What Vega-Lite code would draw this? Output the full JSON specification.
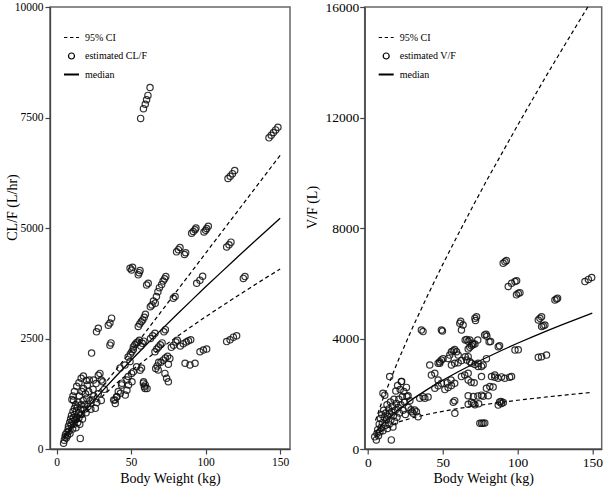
{
  "$schema": "https://vega.github.io/schema/vega-lite/v6.json",
  "background": "white",
  "padding": {"left": 4, "top": -1, "right": 0, "bottom": 0},
  "spacing": 13.7,
  "config": {
    "view": {"stroke": "#666", "strokeWidth": 1.5},
    "style": {
      "guide-label": {"font": "Liberation Serif", "fontSize": 11.5, "fill": "black"},
      "guide-title": {"font": "Liberation Serif", "fontSize": 14, "fontWeight": "normal", "fill": "black"}
    },
    "axis": {
      "domainColor": "#444", "domainWidth": 1.3, "tickColor": "#444", "tickWidth": 1.2, "tickSize": 5,
      "grid": false, "labelPadding": 2, "format": "d"
    }
  },
  "datasets": {
    "cl": [
      {"W":56.4,"v":7480},{"W":58.3,"v":7700},{"W":59.5,"v":7800},{"W":60.4,"v":7900},{"W":61.3,"v":8000},{"W":62.7,"v":8180},
      {"W":142.5,"v":7040},{"W":144,"v":7100},{"W":145.5,"v":7160},{"W":147,"v":7220},{"W":148.5,"v":7280},
      {"W":115,"v":6120},{"W":116.5,"v":6170},{"W":118,"v":6230},{"W":119.5,"v":6300},
      {"W":90.6,"v":4880},{"W":91.7,"v":4920},{"W":92.9,"v":4960},{"W":93.5,"v":5000},
      {"W":98.9,"v":4910},{"W":100,"v":4950},{"W":100.7,"v":4990},{"W":101.8,"v":5040},
      {"W":80.5,"v":4460},{"W":81.7,"v":4510},{"W":82.8,"v":4560},
      {"W":85.8,"v":4400},{"W":86.6,"v":4440},
      {"W":114.1,"v":4570},{"W":115.7,"v":4620},{"W":117,"v":4680},
      {"W":49.3,"v":4090},{"W":50.3,"v":4050},{"W":51,"v":4110},
      {"W":54.8,"v":3940},{"W":56,"v":4040},{"W":55.4,"v":3990},
      {"W":60.4,"v":3710},{"W":61.5,"v":3750},
      {"W":62.9,"v":3220},{"W":64,"v":3260},{"W":65,"v":3350},{"W":66.2,"v":3300},{"W":67,"v":3450},{"W":68,"v":3560},{"W":69,"v":3650},{"W":70.5,"v":3720},{"W":71.5,"v":3800},{"W":72.5,"v":3850},{"W":73.3,"v":3900},
      {"W":78.3,"v":3410},{"W":79.5,"v":3450},
      {"W":94,"v":3750},{"W":96.2,"v":3820},{"W":98,"v":3910},
      {"W":125.3,"v":3860},{"W":126.4,"v":3900},
      {"W":114.1,"v":2430},{"W":116.4,"v":2470},{"W":118.6,"v":2530},{"W":120.8,"v":2560},
      {"W":96.2,"v":2200},{"W":98.5,"v":2240},{"W":100.7,"v":2260},
      {"W":86.2,"v":1940},{"W":89.5,"v":1900},{"W":92.9,"v":1940},
      {"W":26.8,"v":2650},{"W":28,"v":2730},
      {"W":34.7,"v":2800},{"W":35.8,"v":2850},{"W":36.9,"v":2960},
      {"W":23.5,"v":2170},
      {"W":35.8,"v":2350},{"W":36.5,"v":2400},
      {"W":54.8,"v":2770},{"W":55.8,"v":2830},{"W":56.8,"v":2880},{"W":57.8,"v":2920},{"W":58.8,"v":2980},{"W":59.6,"v":3050},
      {"W":51.5,"v":2310},{"W":52.5,"v":2360},{"W":53.5,"v":2400},{"W":54.5,"v":2420},{"W":55.5,"v":2460},{"W":56.5,"v":2330},{"W":57.5,"v":2390},{"W":58.5,"v":2440},
      {"W":48,"v":2080},{"W":49.5,"v":2150},{"W":50.5,"v":2200},{"W":51.5,"v":2250},
      {"W":66,"v":2200},{"W":67.2,"v":2260},{"W":68.4,"v":2310},{"W":69.6,"v":2360},{"W":70.8,"v":2400},
      {"W":77,"v":2300},{"W":78.5,"v":2350},{"W":80,"v":2420},{"W":81,"v":2460},{"W":83,"v":2330},{"W":85,"v":2380},{"W":87,"v":2420},{"W":88.5,"v":2450},{"W":90,"v":2470},
      {"W":70,"v":1960},{"W":71.5,"v":2010},{"W":73,"v":2060},{"W":74.5,"v":2100},{"W":76,"v":2050},{"W":75,"v":1920},
      {"W":66.5,"v":1820},{"W":67.5,"v":1880},{"W":68.5,"v":1960},
      {"W":68.2,"v":1790},{"W":72.7,"v":1710},{"W":73.8,"v":1600},{"W":75,"v":1520},
      {"W":58.2,"v":1490},{"W":58.9,"v":1410},{"W":59.3,"v":1370},
      {"W":48.1,"v":1640},{"W":50.3,"v":1710},{"W":51.5,"v":1750},{"W":53.7,"v":1860},
      {"W":43.6,"v":1450},{"W":41.4,"v":1300},{"W":39.2,"v":1110},{"W":40.3,"v":1180},
      {"W":42.6,"v":1830},{"W":45.9,"v":1900},{"W":49.3,"v":1980},
      {"W":28,"v":1670},{"W":29.1,"v":1710},{"W":30,"v":1560},{"W":31,"v":1520},
      {"W":38.3,"v":1110},{"W":39.4,"v":1030},{"W":40.5,"v":1180},{"W":42.8,"v":1260},{"W":46.1,"v":1220},{"W":47.2,"v":1330},{"W":48.3,"v":1450},{"W":50.6,"v":1520},{"W":47.2,"v":1560},{"W":43.9,"v":1490},
      {"W":58.4,"v":1520},{"W":59.5,"v":1450},{"W":60.7,"v":1370},
      {"W":63,"v":2500},{"W":64.5,"v":2560},{"W":66,"v":2620},{"W":72,"v":2650},{"W":73,"v":2700},
      {"W":57,"v":1830},{"W":56,"v":1780},
      {"W":4.7,"v":130},{"W":5.2,"v":200},{"W":5.7,"v":270},{"W":6,"v":330},{"W":6.5,"v":250},{"W":7,"v":380},{"W":7.3,"v":300},{"W":7.8,"v":450},{"W":8,"v":520},{"W":8.3,"v":400},{"W":8.8,"v":600},{"W":9,"v":350},{"W":9.4,"v":680},{"W":9.8,"v":540},{"W":10,"v":760},{"W":10.3,"v":1120},{"W":10.5,"v":620},{"W":10.8,"v":450},{"W":11,"v":850},{"W":11.2,"v":700},{"W":11.4,"v":1100},{"W":11.7,"v":560},{"W":12,"v":920},{"W":12.2,"v":780},{"W":12.5,"v":660},{"W":12.8,"v":1000},{"W":13,"v":480},{"W":13.3,"v":860},{"W":13.6,"v":720},{"W":14,"v":950},{"W":14.2,"v":600},{"W":14.5,"v":1060},{"W":14.8,"v":820},{"W":15,"v":700},{"W":15.3,"v":1200},{"W":15.6,"v":560},{"W":15.9,"v":240},{"W":16.2,"v":900},{"W":16.5,"v":1000},{"W":16.8,"v":780},{"W":17,"v":1300},{"W":17.4,"v":680},{"W":17.8,"v":1100},{"W":18.1,"v":1370},{"W":18.5,"v":900},{"W":19,"v":1000},{"W":19.4,"v":1250},{"W":19.8,"v":820},{"W":20.3,"v":1150},{"W":20.6,"v":1450},{"W":21,"v":960},{"W":21.5,"v":1300},{"W":22,"v":1560},{"W":22.5,"v":1100},{"W":23,"v":900},{"W":23.8,"v":1110},{"W":24.5,"v":1350},{"W":25,"v":1200},{"W":26,"v":920},{"W":27,"v":1050},{"W":28,"v":1250},{"W":30,"v":1100},{"W":32,"v":1350},
      {"W":24.8,"v":1560},{"W":26.5,"v":1480},
      {"W":12,"v":1300},{"W":13.5,"v":1420},{"W":15,"v":1500},{"W":16.5,"v":1600},{"W":18,"v":1650},{"W":20,"v":1550},{"W":11,"v":1200}
    ],
    "vf": [
      {"W":90.4,"v":6720},{"W":91.6,"v":6780},{"W":92.6,"v":6820},
      {"W":93.8,"v":5880},{"W":96,"v":6000},{"W":98.3,"v":6060},{"W":99.4,"v":6090},
      {"W":99.3,"v":5580},{"W":100.5,"v":5640},{"W":101.6,"v":5660},
      {"W":145.1,"v":6060},{"W":147.4,"v":6140},{"W":149.6,"v":6210},
      {"W":125,"v":5390},{"W":126.1,"v":5430},{"W":126.8,"v":5460},
      {"W":113.9,"v":4670},{"W":115,"v":4730},{"W":116.1,"v":4790},
      {"W":116.1,"v":4430},{"W":117.2,"v":4460},{"W":118.3,"v":4490},
      {"W":113.9,"v":3320},{"W":116.1,"v":3340},{"W":119.4,"v":3400},
      {"W":98.3,"v":3580},{"W":100.5,"v":3590},
      {"W":87.1,"v":1590},{"W":89.3,"v":1650},{"W":90.5,"v":1680},
      {"W":74.8,"v":930},{"W":76,"v":930},{"W":77,"v":930},{"W":78.1,"v":940},
      {"W":35.7,"v":4310},{"W":36.8,"v":4250},
      {"W":49.1,"v":4310},{"W":49.8,"v":4270},
      {"W":61.4,"v":4550},{"W":62.5,"v":4310},{"W":63.6,"v":4490},{"W":62,"v":4620},
      {"W":71.5,"v":4730},{"W":72.6,"v":4790},{"W":71.9,"v":4650},
      {"W":78,"v":4130},{"W":79,"v":4150},{"W":79.5,"v":4080},
      {"W":65,"v":3950},{"W":66,"v":3960},{"W":67,"v":3900},
      {"W":87.1,"v":3700},{"W":88,"v":3740},
      {"W":68.1,"v":3946},{"W":70,"v":3825},{"W":73.4,"v":3946},{"W":81,"v":3880},{"W":82,"v":3890},
      {"W":67,"v":3343},{"W":79.2,"v":3270},
      {"W":67,"v":2498},{"W":69,"v":2420},{"W":71,"v":2400},{"W":75.9,"v":2620},
      {"W":79.2,"v":2200},{"W":81.5,"v":2260},{"W":83.7,"v":2240},
      {"W":84.8,"v":2600},{"W":87,"v":2560},{"W":89.3,"v":2610},{"W":91.5,"v":2560},{"W":94.7,"v":2600},{"W":96,"v":2620},
      {"W":67,"v":1930},{"W":70.5,"v":1900},{"W":73.5,"v":1920},{"W":75.9,"v":1950},{"W":77,"v":1910},{"W":80.4,"v":1930},
      {"W":67,"v":1620},{"W":70.5,"v":1650},{"W":74,"v":1640},{"W":69.2,"v":1690},{"W":71.5,"v":1600},
      {"W":88,"v":1700},{"W":89,"v":1720},
      {"W":41.3,"v":3040},{"W":42.4,"v":2680},{"W":44.7,"v":2740},
      {"W":46.9,"v":3100},{"W":48,"v":3160},{"W":49.1,"v":3220},{"W":50.2,"v":3270},
      {"W":53.6,"v":3280},{"W":54.7,"v":3400},{"W":55.8,"v":3520},{"W":57,"v":3560},{"W":58,"v":3600},{"W":59.2,"v":3520},{"W":60.3,"v":3400},
      {"W":55.8,"v":3040},{"W":58,"v":3100},{"W":60.3,"v":3120},{"W":62.5,"v":3200},
      {"W":67,"v":3620},{"W":68.1,"v":3680},{"W":69.2,"v":3740},{"W":70.3,"v":3780},{"W":71.5,"v":3800},
      {"W":65,"v":3340},{"W":66,"v":3220},{"W":68.1,"v":3160},{"W":69.2,"v":3100},{"W":71.5,"v":3060},{"W":73.7,"v":3100},
      {"W":73.7,"v":2990},{"W":75.9,"v":2990},{"W":77,"v":3040},
      {"W":62.5,"v":2620},{"W":64.7,"v":2680},{"W":67,"v":2740},
      {"W":51.4,"v":2150},{"W":53.6,"v":2230},{"W":55.8,"v":2300},{"W":58,"v":2380},
      {"W":38,"v":1835},{"W":34.6,"v":1835},{"W":36.9,"v":1895},{"W":40.2,"v":1880},
      {"W":32.4,"v":1350},{"W":33.5,"v":1170},{"W":30.1,"v":1290},{"W":31.2,"v":1410},
      {"W":58.1,"v":1290},
      {"W":44.7,"v":2200},{"W":46.9,"v":2290},{"W":49.1,"v":2380},
      {"W":82.6,"v":2620},{"W":84.8,"v":2680},
      {"W":57,"v":1690},{"W":58,"v":1750},
      {"W":46.9,"v":2498},{"W":53,"v":2400},{"W":55.5,"v":2500},{"W":48,"v":3102},
      {"W":4.5,"v":440},{"W":5.6,"v":330},{"W":6,"v":560},{"W":6.5,"v":700},{"W":7,"v":480},{"W":7.5,"v":900},{"W":8,"v":620},{"W":8.3,"v":1100},{"W":8.8,"v":780},{"W":9.2,"v":1250},{"W":9.6,"v":950},{"W":10,"v":660},{"W":10.4,"v":1400},{"W":10.8,"v":1150},{"W":11.2,"v":1950},{"W":11.5,"v":860},{"W":11.9,"v":1300},{"W":12.3,"v":1050},{"W":12.7,"v":1600},{"W":13,"v":740},{"W":13.4,"v":1180},{"W":13.8,"v":1450},{"W":14.2,"v":900},{"W":14.5,"v":1290},{"W":14.5,"v":2620},{"W":15,"v":1700},{"W":15.3,"v":1050},{"W":15.6,"v":330},{"W":15.9,"v":1350},{"W":16.3,"v":1550},{"W":16.7,"v":800},{"W":17,"v":1200},{"W":17.4,"v":1800},{"W":17.8,"v":1000},{"W":18.2,"v":1400},{"W":18.6,"v":2100},{"W":19,"v":1650},{"W":19.4,"v":1150},{"W":19.8,"v":2300},{"W":20.2,"v":1500},{"W":20.6,"v":1800},{"W":21,"v":1300},{"W":21.5,"v":2150},{"W":22,"v":1600},{"W":22.5,"v":2440},{"W":23,"v":1900},{"W":23.5,"v":1400},{"W":24,"v":2080},{"W":24.5,"v":1700},{"W":25,"v":1250},{"W":26,"v":1900},{"W":27,"v":1500},{"W":28,"v":1750},{"W":29.4,"v":1350},{"W":28.8,"v":1420},
      {"W":10,"v":2020},{"W":22.3,"v":2440},{"W":25.7,"v":2230},{"W":26.8,"v":1930}
    ],
    "cllines": [
      {"W":5,"q":"lo","v":230},{"W":10,"q":"lo","v":440},{"W":20,"q":"lo","v":830},{"W":30,"q":"lo","v":1170},{"W":40,"q":"lo","v":1480},{"W":50,"q":"lo","v":1766},{"W":60,"q":"lo","v":2029},{"W":70,"q":"lo","v":2281},{"W":80,"q":"lo","v":2523},{"W":90,"q":"lo","v":2761},{"W":100,"q":"lo","v":2991},{"W":110,"q":"lo","v":3214},{"W":120,"q":"lo","v":3434},{"W":130,"q":"lo","v":3650},{"W":140,"q":"lo","v":3864},{"W":150,"q":"lo","v":4070},
      {"W":5,"q":"hi","v":300},{"W":10,"q":"hi","v":520},{"W":20,"q":"hi","v":960},{"W":30,"q":"hi","v":1380},{"W":40,"q":"hi","v":1800},{"W":50,"q":"hi","v":2215},{"W":60,"q":"hi","v":2658},{"W":70,"q":"hi","v":3100},{"W":80,"q":"hi","v":3544},{"W":90,"q":"hi","v":3987},{"W":100,"q":"hi","v":4430},{"W":110,"q":"hi","v":4873},{"W":120,"q":"hi","v":5316},{"W":130,"q":"hi","v":5759},{"W":140,"q":"hi","v":6202},{"W":150,"q":"hi","v":6645},
      {"W":5,"q":"median","v":265},{"W":10,"q":"median","v":480},{"W":20,"q":"median","v":905},{"W":30,"q":"median","v":1287},{"W":40,"q":"median","v":1653},{"W":50,"q":"median","v":2007},{"W":60,"q":"median","v":2353},{"W":70,"q":"median","v":2690},{"W":80,"q":"median","v":3021},{"W":90,"q":"median","v":3345},{"W":100,"q":"median","v":3671},{"W":110,"q":"median","v":3985},{"W":120,"q":"median","v":4300},{"W":130,"q":"median","v":4611},{"W":140,"q":"median","v":4916},{"W":150,"q":"median","v":5220}
    ],
    "vflines": [
      {"W":5,"q":"lo","v":450},{"W":10,"q":"lo","v":680},{"W":20,"q":"lo","v":972},{"W":30,"q":"lo","v":1131},{"W":40,"q":"lo","v":1257},{"W":50,"q":"lo","v":1365},{"W":60,"q":"lo","v":1461},{"W":70,"q":"lo","v":1546},{"W":80,"q":"lo","v":1624},{"W":90,"q":"lo","v":1697},{"W":100,"q":"lo","v":1764},{"W":110,"q":"lo","v":1827},{"W":120,"q":"lo","v":1888},{"W":130,"q":"lo","v":1944},{"W":140,"q":"lo","v":1998},{"W":150,"q":"lo","v":2050},
      {"W":5,"q":"hi","v":1034},{"W":10,"q":"hi","v":1814},{"W":20,"q":"hi","v":3179},{"W":30,"q":"hi","v":4418},{"W":40,"q":"hi","v":5571},{"W":50,"q":"hi","v":6683},{"W":60,"q":"hi","v":7741},{"W":70,"q":"hi","v":8773},{"W":80,"q":"hi","v":9782},{"W":90,"q":"hi","v":10747},{"W":100,"q":"hi","v":11712},{"W":110,"q":"hi","v":12650},{"W":120,"q":"hi","v":13579},{"W":130,"q":"hi","v":14483},{"W":140,"q":"hi","v":15378},{"W":147,"q":"hi","v":16000},
      {"W":5,"q":"median","v":597},{"W":10,"q":"median","v":918},{"W":20,"q":"median","v":1411},{"W":30,"q":"median","v":1814},{"W":40,"q":"median","v":2167},{"W":50,"q":"median","v":2490},{"W":60,"q":"median","v":2788},{"W":70,"q":"median","v":3069},{"W":80,"q":"median","v":3331},{"W":90,"q":"median","v":3583},{"W":100,"q":"median","v":3828},{"W":110,"q":"median","v":4060},{"W":120,"q":"median","v":4286},{"W":130,"q":"median","v":4502},{"W":140,"q":"median","v":4714},{"W":150,"q":"median","v":4920}
    ]
  },
  "resolve": {"scale": {"x": "independent", "y": "independent", "shape": "independent"}, "legend": {"shape": "independent"}},
  "hconcat": [
    {
      "width": 240, "height": 442,
      "encoding": {
        "x": {"field": "W", "type": "quantitative", "scale": {"domain": [-4.4, 156.6], "nice": false, "zero": false},
              "axis": {"title": "Body Weight (kg)", "values": [0, 50, 100, 150], "labelFont": "Liberation Serif", "labelFontSize": 11.5, "labelColor": "black", "titleFont": "Liberation Serif", "titleFontSize": 14, "titleFontWeight": "normal", "titleColor": "black", "titlePadding": 4}},
        "y": {"field": "v", "type": "quantitative", "scale": {"domain": [0, 10000], "nice": false},
              "axis": {"title": "CL/F (L/hr)", "values": [0, 2500, 5000, 7500, 10000], "labelFont": "Liberation Serif", "labelFontSize": 11.5, "labelColor": "black", "titleFont": "Liberation Serif", "titleFontSize": 14, "titleFontWeight": "normal", "titleColor": "black", "titlePadding": -4.75, "titleY": 200}}
      },
      "layer": [
        {
          "data": {"name": "cllines"},
          "transform": [{"filter": "datum.q !== 'median'"}],
          "mark": {"type": "line", "strokeDash": [4, 3], "strokeWidth": 1.2, "color": "black"},
          "encoding": {"detail": {"field": "q"}}
        },
        {
          "data": {"name": "cllines"},
          "transform": [{"filter": "datum.q === 'median'"}],
          "mark": {"type": "line", "strokeWidth": 1.3, "color": "black"},
          "encoding": {}
        },
        {
          "data": {"name": "cl"},
          "mark": {"type": "point", "filled": false, "size": 248, "strokeWidth": 1.2, "color": "#111", "opacity": 0.85},
          "encoding": {
            "shape": {
              "datum": "estimated CL/F", "type": "nominal",
              "scale": {"domain": ["95% CI", "estimated CL/F", "median"], "range": ["M-1,0H-0.55M-0.2,0H0.25M0.6,0H1", "M-0.4,0A0.4,0.4 0 1,0 0.4,0A0.4,0.4 0 1,0 -0.4,0", "M-1,-0.06H1M-1,0.06H1"]},
              "legend": {
                "title": null, "orient": "none", "legendX": 13, "legendY": 22, "padding": 0,
                "labelFont": "Liberation Serif", "labelFontSize": 10, "labelColor": "black", "labelOffset": 5,
                "symbolSize": 225, "rowPadding": 4.5, "symbolStrokeColor": "black", "symbolFillColor": "transparent", "symbolStrokeWidth": 1.2, "symbolOpacity": 1
              }
            }
          }
        }
      ]
    },
    {
      "width": 237, "height": 442,
      "encoding": {
        "x": {"field": "W", "type": "quantitative", "scale": {"domain": [-2.2, 156.3], "nice": false, "zero": false},
              "axis": {"title": "Body Weight (kg)", "values": [0, 50, 100, 150], "labelFont": "Liberation Serif", "labelFontSize": 13.5, "labelPadding": 1, "labelColor": "black", "titleFont": "Liberation Serif", "titleFontSize": 14, "titleFontWeight": "normal", "titleColor": "black", "titlePadding": 3}},
        "y": {"field": "v", "type": "quantitative", "scale": {"domain": [0, 16000], "nice": false},
              "axis": {"title": "V/F (L)", "values": [0, 4000, 8000, 12000, 16000], "labelFont": "Liberation Serif", "labelFontSize": 13.5, "labelPadding": 1, "labelColor": "black", "titleFont": "Liberation Serif", "titleFontSize": 14, "titleFontWeight": "normal", "titleColor": "black", "titlePadding": 5, "titleY": 200}}
      },
      "layer": [
        {
          "data": {"name": "vflines"},
          "transform": [{"filter": "datum.q !== 'median'"}],
          "mark": {"type": "line", "strokeDash": [4, 3], "strokeWidth": 1.2, "color": "black"},
          "encoding": {"detail": {"field": "q"}}
        },
        {
          "data": {"name": "vflines"},
          "transform": [{"filter": "datum.q === 'median'"}],
          "mark": {"type": "line", "strokeWidth": 1.3, "color": "black"},
          "encoding": {}
        },
        {
          "data": {"name": "vf"},
          "mark": {"type": "point", "filled": false, "size": 248, "strokeWidth": 1.2, "color": "#111", "opacity": 0.85},
          "encoding": {
            "shape": {
              "datum": "estimated V/F", "type": "nominal",
              "scale": {"domain": ["95% CI", "estimated V/F", "median"], "range": ["M-1,0H-0.55M-0.2,0H0.25M0.6,0H1", "M-0.4,0A0.4,0.4 0 1,0 0.4,0A0.4,0.4 0 1,0 -0.4,0", "M-1,-0.06H1M-1,0.06H1"]},
              "legend": {
                "title": null, "orient": "none", "legendX": 13, "legendY": 22, "padding": 0,
                "labelFont": "Liberation Serif", "labelFontSize": 10, "labelColor": "black", "labelOffset": 5,
                "symbolSize": 225, "rowPadding": 4.5, "symbolStrokeColor": "black", "symbolFillColor": "transparent", "symbolStrokeWidth": 1.2, "symbolOpacity": 1
              }
            }
          }
        }
      ]
    }
  ]
}
